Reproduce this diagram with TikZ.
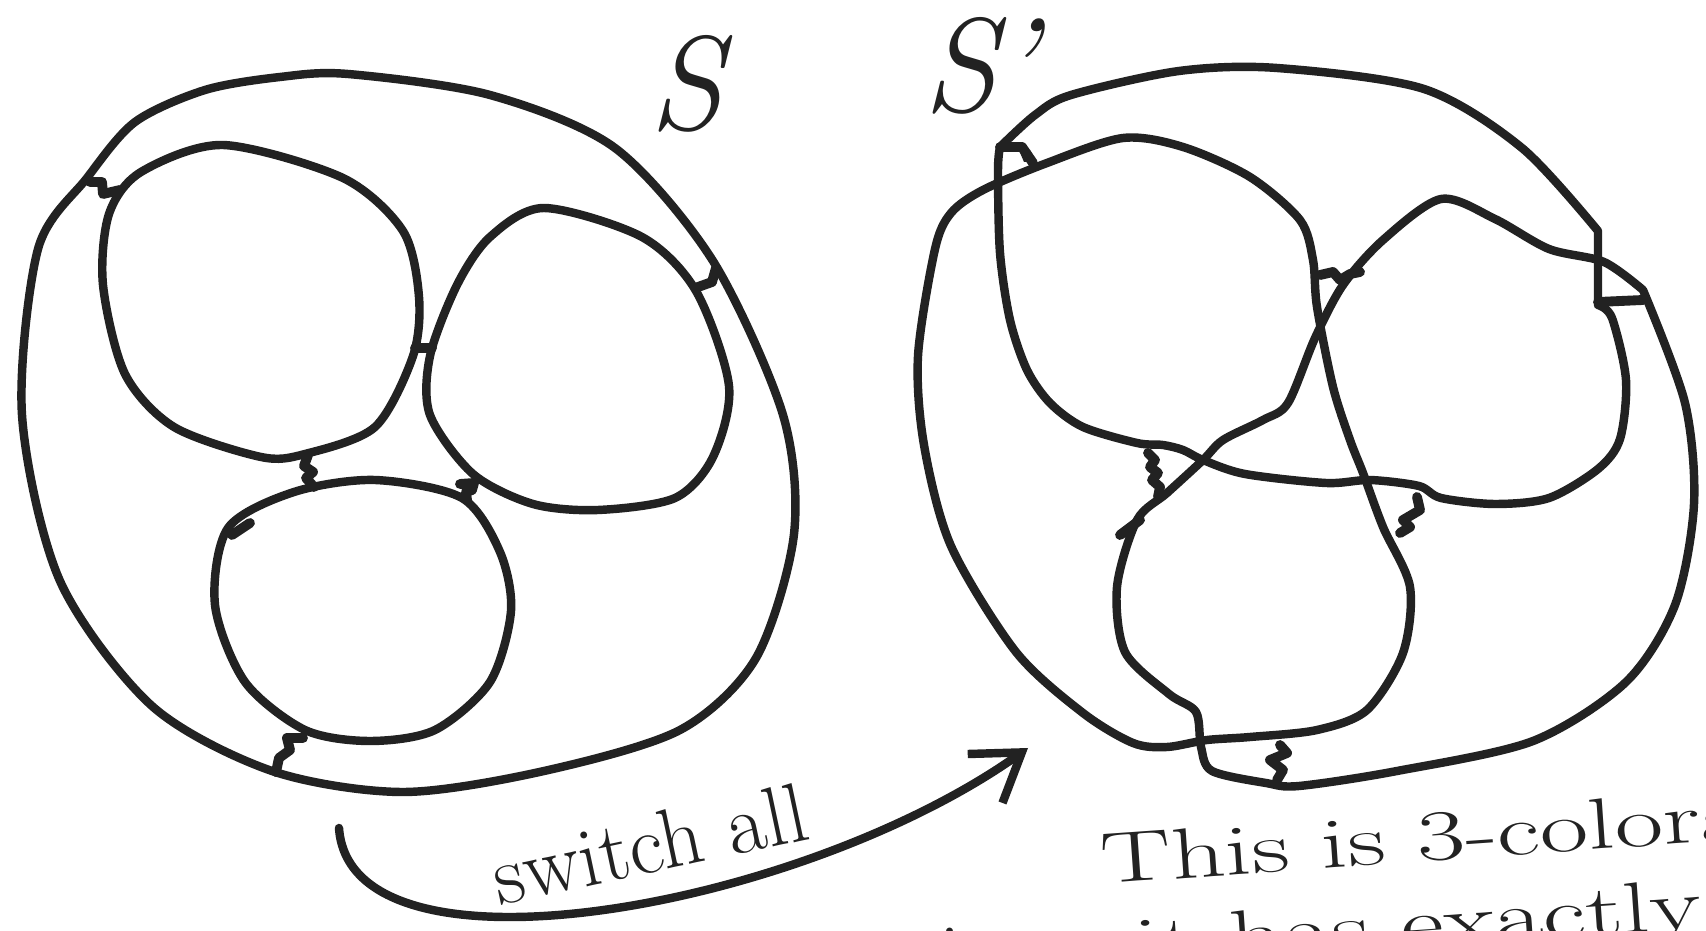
\documentclass[tikz,border=0pt]{standalone}
\usepackage{fontspec}
\usepackage{tikz}
\usetikzlibrary{arrows.meta}
\definecolor{ink}{HTML}{222222}

\begin{document}
\begin{tikzpicture}[x=0.01cm, y=-0.01cm, line cap=round, line join=round,
		rope/.style={draw=ink, line width=2.4pt},
		switchmark/.style={draw=ink, line width=2.8pt},
		hand/.style={text=ink, inner sep=0pt},
		notetext/.style={hand, font=\fontsize{24}{28}\selectfont, anchor=base west, rotate=4, xscale=1.25, yscale=0.85},
		>={Straight Barb[length=4.5mm,width=6mm]}]
	\useasboundingbox (0,0) rectangle (1706,931);
	\fill[white] (0,0) rectangle (1706,931);
	\clip (0,0) rectangle (1706,931);

	% S : outer loop and three inner loops
	\draw[rope] plot[smooth cycle] coordinates {(348,74) (490,95) (615,148) (713,261) (783,415) (794,534) (756,658) (680,730) (544,771) (403,792) (272,771) (152,706) (60,581) (22,415) (38,249) (87,178) (135,122) (205,90) (280,77)};
	\draw[rope] plot[smooth cycle] coordinates {(223,145) (343,178) (403,231) (419,297) (413,356) (375,427) (305,454) (261,457) (174,427) (125,374) (103,285) (109,214) (141,172)};
	\draw[rope] plot[smooth cycle] coordinates {(544,208) (642,237) (696,291) (729,386) (713,457) (675,498) (598,510) (533,504) (473,474) (430,415) (430,356) (457,285) (490,237)};
	\draw[rope] plot[smooth cycle] coordinates {(375,480) (462,498) (500,552) (511,611) (490,682) (435,730) (370,741) (305,730) (245,682) (215,605) (228,528) (294,492)};

	% switches of S
	\draw[switchmark] (90,182) -- (102,182) -- (103,194) -- (120,190);
	\draw[switchmark] (415,348) -- (432,348);
	\draw[switchmark] (308,455) -- (304,466) -- (313,472) -- (306,478) -- (314,487);
	\draw[switchmark] (460,484) -- (474,483) -- (472,490) -- (466,492) -- (467,500);
	\draw[switchmark] (303,738) -- (287,738) -- (290,750) -- (279,758) -- (276,772);
	\draw[switchmark] (716,268) -- (712,282) -- (698,287);
	\draw[switchmark] (232,535) -- (250,523);

	% S' : the same loops after switching
	\draw[rope] plot[smooth] coordinates {(1643,290) (1604,262) (1549,249) (1495,219) (1441,199) (1383,240) (1343,285) (1315,338) (1288,403) (1263,420) (1223,440) (1203,460) (1167,493) (1137,520) (1117,587) (1125,652) (1169,694) (1196,712) (1201,747) (1212,771) (1266,783) (1299,786) (1397,771) (1533,741) (1626,682) (1675,605) (1694,504) (1685,403) (1643,290)};
	\draw[rope] plot[smooth] coordinates {(1000,147) (1035,115) (1071,95) (1179,71) (1277,68) (1424,89) (1522,148) (1598,231)}
		-- plot[smooth] coordinates {(1598,305) (1612,318) (1626,380) (1620,439) (1598,469) (1549,498) (1495,504) (1441,498) (1419,486) (1370,480) (1326,483) (1245,474) (1203,460) (1183,450) (1163,445) (1137,443) (1083,427) (1050,403) (1027,370) (1010,320) (1000,253) (998,170) (1000,147)};
	\draw[rope] plot[smooth cycle] coordinates {(951,213) (983,190) (1047,163) (1123,138) (1183,147) (1250,177) (1300,220) (1313,260) (1317,307) (1333,387) (1350,440) (1363,473) (1383,527) (1410,587) (1403,653) (1367,710) (1317,730) (1250,737) (1207,740) (1167,747) (1133,743) (1083,713) (1016,652) (951,546) (924,445) (918,356) (935,249)};

	% switches of S'
	\draw[switchmark] (1000,147) -- (1022,147) -- (1033,163);
	\fill[ink] (1018,148) -- (1030,150) -- (1036,162) -- (1024,162) -- cycle;
	\draw[switchmark] (1320,275) -- (1333,272) -- (1340,280) -- (1350,274) -- (1360,272);
	\draw[switchmark] (1148,453) -- (1155,460) -- (1150,467) -- (1158,473) -- (1152,480) -- (1160,487) -- (1158,497);
	\draw[switchmark] (1417,497) -- (1420,510) -- (1403,520) -- (1410,527) -- (1400,533);
	\draw[switchmark] (1280,745) -- (1287,753) -- (1270,760) -- (1283,770) -- (1277,780);
	\draw[switchmark] (1598,302) -- (1643,300);
	\draw[switchmark] (1120,535) -- (1140,520);

	% labels
	\node[hand, font=\fontsize{38}{40}\selectfont\itshape] (lblS) at (686,84) {S};
	\node[hand, font=\fontsize{38}{40}\selectfont\itshape] (lblSp) at (980,66) {S'};

	% the switch arrow
	\coordinate (arrfrom) at (339,828);
	\coordinate (arrto) at (1028,748);
	\draw[rope, ->] (arrfrom) .. controls (350,990) and (800,910) .. (arrto);
	\node[hand, font=\fontsize{24}{28}\selectfont, anchor=base, rotate=12] (lblswitch) at (656,872) {switch all};

	% note, cut off by the page edge
	\node[notetext] (note1) at (1102,884) {This is 3-colorable};
	\node[notetext] (note2) at (1135,968) {it has exactly};
	\node[hand, font=\fontsize{24}{28}\selectfont, anchor=base] (note0) at (950,982) {i};
\end{tikzpicture}
\end{document}
